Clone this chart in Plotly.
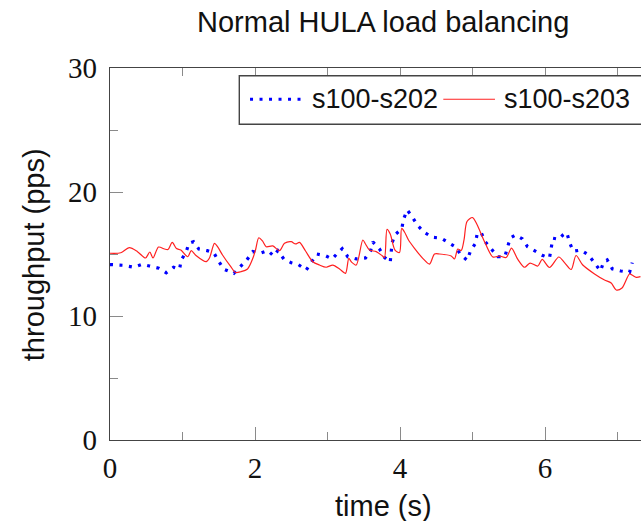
import plotly.graph_objects as go

# ---- data ----
t_s202 = [0.000, 0.076, 0.186, 0.328, 0.444, 0.545, 0.673, 0.775, 0.876, 0.959,
          0.982, 1.051, 1.087, 1.152, 1.225, 1.341, 1.432, 1.497, 1.570, 1.708,
          1.796, 1.887, 1.970, 2.072, 2.177, 2.259, 2.314, 2.397, 2.499, 2.600,
          2.706, 2.783, 2.852, 2.972, 3.065, 3.128, 3.203, 3.280, 3.396, 3.524,
          3.593, 3.625, 3.717, 3.786, 3.865, 3.879, 3.892, 3.938, 4.025, 4.048,
          4.099, 4.168, 4.237, 4.334, 4.444, 4.568, 4.659, 4.761, 4.839, 4.927,
          4.972, 5.041, 5.065, 5.120, 5.175, 5.262, 5.349, 5.446, 5.487, 5.520,
          5.593, 5.686, 5.759, 5.865, 5.961, 6.062, 6.080, 6.108, 6.190, 6.246,
          6.301, 6.338, 6.389, 6.494, 6.600, 6.687, 6.766, 6.807, 6.858, 6.927,
          7.046, 7.166, 7.203]
v_s202 = [14.15, 14.14, 14.09, 13.93, 14.17, 14.03, 13.85, 13.49, 13.93, 13.77,
          14.52, 15.16, 15.86, 15.99, 15.40, 15.27, 15.10, 14.44, 13.77, 13.44,
          13.93, 14.52, 15.19, 15.06, 15.27, 14.84, 15.27, 14.60, 14.30, 14.14,
          13.71, 14.41, 15.00, 14.86, 14.60, 15.00, 15.43, 14.78, 14.60, 14.68,
          15.24, 15.97, 15.40, 14.73, 14.33, 15.19, 15.94, 16.59, 17.04, 17.80,
          18.55, 18.01, 17.34, 16.75, 16.35, 16.27, 15.94, 15.59, 14.94, 14.49,
          15.24, 15.86, 16.67, 16.72, 15.99, 15.40, 14.78, 14.78, 15.54, 16.29,
          16.53, 16.23, 15.59, 15.22, 14.90, 14.68, 15.46, 16.27, 16.19, 16.53,
          16.72, 15.94, 15.22, 15.32, 14.92, 14.27, 13.63, 14.35, 14.52, 13.81,
          13.63, 13.52, 14.30]

t_s203 = [0.000, 0.149, 0.265, 0.379, 0.490, 0.549, 0.593, 0.669, 0.752, 0.800,
          0.858, 0.917, 0.977, 1.073, 1.120, 1.186, 1.327, 1.372, 1.441, 1.483,
          1.552, 1.666, 1.731, 1.804, 1.897, 1.970, 2.007, 2.052, 2.103, 2.154,
          2.246, 2.338, 2.407, 2.499, 2.559, 2.614, 2.697, 2.797, 2.890, 2.982,
          3.073, 3.166, 3.248, 3.294, 3.331, 3.396, 3.487, 3.524, 3.579, 3.672,
          3.754, 3.786, 3.821, 3.865, 3.931, 3.993, 4.023, 4.062, 4.117, 4.200,
          4.314, 4.407, 4.476, 4.545, 4.706, 4.752, 4.797, 4.844, 4.883, 4.924,
          5.000, 5.062, 5.166, 5.280, 5.372, 5.465, 5.538, 5.625, 5.717, 5.793,
          5.901, 5.961, 6.062, 6.190, 6.269, 6.361, 6.428, 6.521, 6.683, 6.821,
          6.913, 6.982, 7.062, 7.166, 7.211, 7.258, 7.317]
v_s203 = [15.06, 15.10, 15.51, 15.19, 14.68, 15.16, 14.68, 15.56, 15.40, 15.36,
          15.93, 15.44, 15.32, 14.78, 15.27, 14.88, 14.38, 14.68, 15.85, 15.59,
          14.92, 13.98, 13.51, 13.57, 13.79, 14.65, 15.32, 16.31, 16.05, 15.59,
          15.65, 15.27, 15.86, 15.99, 15.81, 15.94, 15.24, 14.38, 14.11, 13.93,
          14.11, 13.79, 13.44, 14.65, 14.35, 14.11, 16.13, 15.81, 15.32, 15.19,
          14.86, 14.72, 16.98, 16.61, 15.32, 15.12, 17.06, 16.77, 16.13, 15.46,
          14.65, 14.19, 15.00, 15.00, 14.84, 14.60, 15.40, 15.28, 16.13, 17.62,
          17.94, 17.38, 15.99, 14.76, 14.84, 14.72, 15.48, 14.56, 13.93, 14.27,
          14.03, 14.56, 13.91, 14.76, 14.31, 13.75, 14.88, 14.11, 13.39, 12.90,
          12.66, 12.10, 12.26, 13.39, 13.27, 13.12, 13.17]

series_names = ["s100-s202", "s100-s203"]
x_ticks = [0, 2, 4, 6]
y_ticks = [0, 10, 20, 30]

SANS = "Liberation Sans, Arial, sans-serif"
SERIF = "Liberation Serif, Times New Roman, serif"
BLUE = "#0000ff"
RED = "#ff2020"
DOT = "3px,6.5px"

fig = go.Figure()
fig.add_trace(go.Scatter(x=t_s202, y=v_s202, mode="lines", name=series_names[0],
                         line=dict(color=BLUE, width=3.2, dash=DOT),
                         showlegend=False))
fig.add_trace(go.Scatter(x=t_s203, y=v_s203, mode="lines", name=series_names[1],
                         line=dict(color=RED, width=1.2, shape="spline", smoothing=0.8),
                         showlegend=False))

axis_common = dict(
    showgrid=False, zeroline=False, showline=True, linecolor="#444444", linewidth=1.4,
    ticks="inside", tickcolor="#8a8a8a", tickwidth=1.2, ticklen=13,
    tickfont=dict(family=SERIF, size=29, color="#111111"),
)
fig.update_xaxes(range=[0, 7.324], tickvals=x_ticks, mirror="ticks",
                 minor=dict(dtick=1, tick0=0, ticks="inside", ticklen=8,
                            tickcolor="#8a8a8a", tickwidth=1.2),
                 ticklabelstandoff=2, **axis_common)
fig.update_yaxes(range=[0, 30], tickvals=y_ticks,
                 minor=dict(dtick=5, tick0=0, ticks="inside", ticklen=8,
                            tickcolor="#8a8a8a", tickwidth=1.2),
                 ticklabelstandoff=6, **axis_common)

# legend (drawn manually so it can run past the cropped right edge)
LY = 0.916
fig.add_shape(type="rect", xref="paper", yref="paper", x0=0.2435, x1=1.08, y0=0.8487, y1=0.9793,
              line=dict(color="#444444", width=1.4), fillcolor="white", layer="above")
fig.add_shape(type="line", xref="paper", yref="paper", x0=0.2637, x1=0.364, y0=LY, y1=LY,
              line=dict(color=BLUE, width=3.2, dash=DOT), layer="above")
fig.add_shape(type="line", xref="paper", yref="paper", x0=0.6277, x1=0.725, y0=LY, y1=LY,
              line=dict(color=RED, width=1.2), layer="above")
fig.add_annotation(text=series_names[0], xref="paper", yref="paper", x=0.376, y=LY,
                   xanchor="left", yanchor="middle", showarrow=False,
                   font=dict(family=SANS, size=27, color="#111111"))
fig.add_annotation(text=series_names[1], xref="paper", yref="paper", x=0.7375, y=LY,
                   xanchor="left", yanchor="middle", showarrow=False,
                   font=dict(family=SANS, size=27, color="#111111"))

# titles
fig.add_annotation(text="Normal HULA load balancing", xref="paper", yref="paper",
                   x=0.515, y=1.1237, xanchor="center", yanchor="middle", showarrow=False,
                   font=dict(family=SANS, size=29, color="#111111"))
fig.add_annotation(text="time (s)", xref="paper", yref="paper",
                   x=0.515, y=-0.177, xanchor="center", yanchor="middle", showarrow=False,
                   font=dict(family=SANS, size=29, color="#111111"))
fig.add_annotation(text="throughput (pps)", xref="paper", yref="paper",
                   x=-0.143, y=0.497, xanchor="center", yanchor="middle", showarrow=False,
                   textangle=-90, font=dict(family=SANS, size=29, color="#111111"))

fig.update_layout(width=641, height=521, margin=dict(l=110, r=0, t=68, b=81),
                  paper_bgcolor="white", plot_bgcolor="white", showlegend=False)

# remove the page's default body margin so the figure sits at the window's top-left corner
fig.write_html("out.html", config={"displayModeBar": False},
               post_script="document.body.style.margin='0';")
